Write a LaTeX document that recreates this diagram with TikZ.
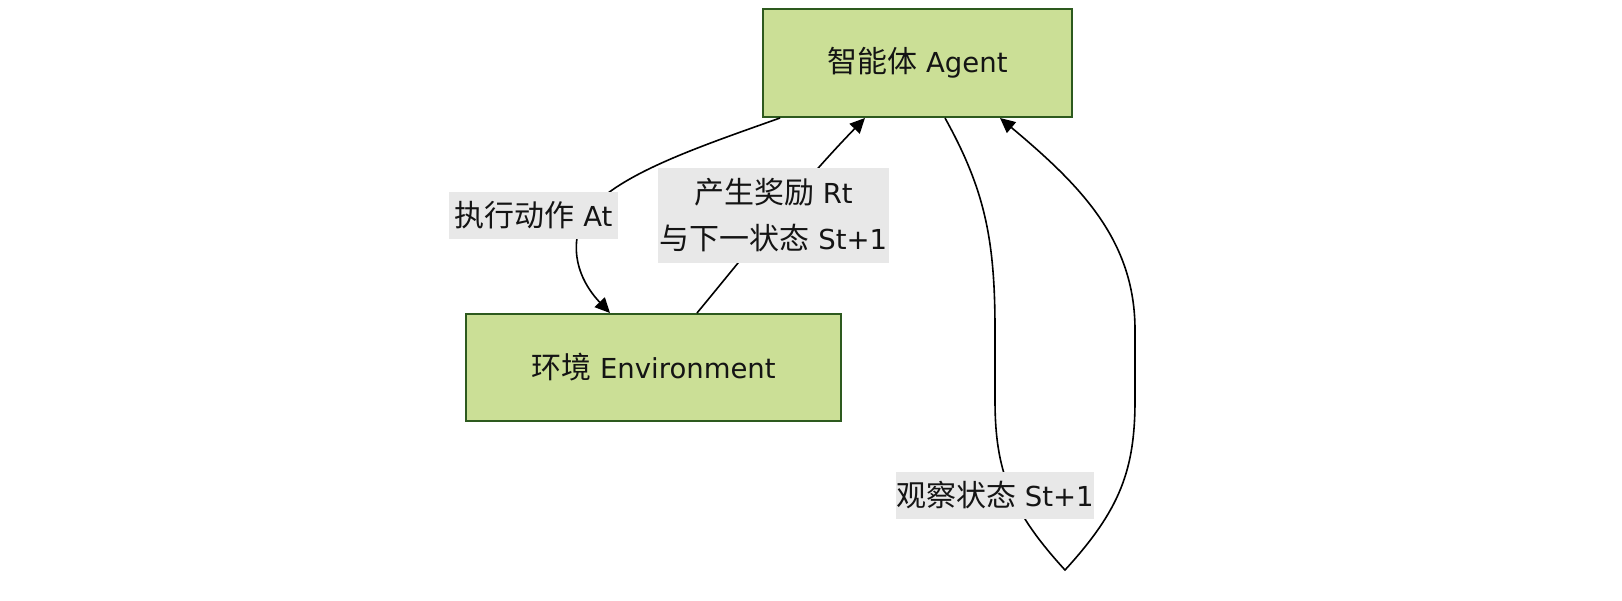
\documentclass[tikz,border=0pt]{standalone}
\usepackage{fontspec}
\setmainfont{DejaVu Sans}
\newfontfamily\cjk[Scale=1.09]{Noto Sans CJK SC}
\usetikzlibrary{arrows.meta}
\definecolor{boxfill}{RGB}{203,223,150}
\definecolor{boxline}{RGB}{45,90,30}
\definecolor{lblbg}{RGB}{232,232,232}
\definecolor{txt}{RGB}{20,20,20}
\begin{document}
\begin{tikzpicture}[x=1pt,y=-1pt,
  box/.style={draw=boxline,fill=boxfill,line width=2pt,inner sep=0pt,text=txt,font=\fontsize{27.5}{46}\selectfont},
  lbl/.style={fill=lblbg,inner sep=0pt,text=txt,align=center,font=\fontsize{27.5}{46}\selectfont},
  edge/.style={line width=1.6pt,draw=black},
  tip/.style={-{Triangle[length=15pt,width=14pt]}}]
\useasboundingbox (0,0) rectangle (1622,600);
\node[box,minimum width=309pt,minimum height=108pt] (agent) at (917.5,63) {{\cjk 智能体} Agent};
\node[box,minimum width=375pt,minimum height=107pt] (env) at (653.5,367.5) {{\cjk 环境} Environment};
\coordinate (a1) at (780,118);
\coordinate (e1) at (610,313);
\coordinate (e2) at (697,313);
\coordinate (a2) at (865,118);
\coordinate (a3) at (945,118);
\coordinate (a4) at (1000,118);
\coordinate (loopbot) at (1065,570);
% action edge
\draw[edge,tip] (a1) .. controls (690,150) and (600,180) .. (580,225)
   .. controls (568,262) and (588,290) .. (e1);
% reward edge
\draw[edge,tip] (e2) .. controls (745,255) and (800,185) .. (a2);
% observation loop
\draw[edge,tip] (a3) .. controls (985,190) and (995,240) .. (995,330) -- (995,400)
   .. controls (995,470) and (1010,510) .. (loopbot)
   .. controls (1120,510) and (1135,470) .. (1135,400) -- (1135,330)
   .. controls (1135,240) and (1080,185) .. (a4);
\node[lbl,minimum width=169pt,minimum height=47pt] (l1) at (533.5,215.5) {{\cjk 执行动作} At};
\node[lbl,minimum width=231pt,minimum height=95pt] (l2) at (773.5,215.5) {{\cjk 产生奖励} Rt\\{\cjk 与下一状态} St+1};
\node[lbl,minimum width=198pt,minimum height=47pt] (l3) at (995,495.5) {{\cjk 观察状态} St+1};
\end{tikzpicture}
\end{document}
